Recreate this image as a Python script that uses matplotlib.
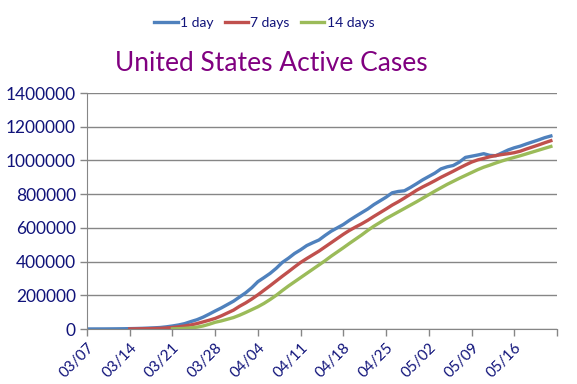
import numpy as np
import matplotlib.pyplot as plt
from matplotlib.ticker import FixedLocator

# active cases in thousands, one value per day starting 03/07
one_day = [0.3, 0.4, 0.5, 0.6, 0.9, 1.2, 1.6, 2.2,
           3, 4, 5.5, 7, 9, 13,
           18, 24, 32, 44, 55, 70, 88, 107,
           125, 145, 165, 190, 215, 245, 281,
           305, 330, 360, 395, 420, 448, 470,
           495, 512, 528, 555, 580, 600, 620,
           645, 668, 690, 712, 738, 760, 782,
           808, 816, 820, 840, 862, 885, 905,
           925, 950, 962, 970, 990, 1018, 1025,
           1032, 1040, 1030, 1028, 1045, 1062, 1075,
           1085, 1098, 1110, 1122, 1135, 1145]

seven_days = [np.nan] * 7 + [
    0.5, 1, 1.5, 2, 3, 4, 6, 9,
    13, 18, 24, 32, 42, 52, 63,
    78, 95, 112, 135, 155, 178, 203,
    230, 257, 285, 313, 340, 368, 395,
    418, 440, 462, 487, 512, 537, 562,
    585, 605, 624, 645, 668, 690, 712,
    735, 755, 777, 800, 823, 843, 861,
    880, 900, 918, 936, 955, 973, 990,
    1003, 1012, 1022, 1029, 1035, 1040, 1046,
    1055, 1068, 1080, 1092, 1105, 1117]

fourteen_days = [np.nan] * 14 + [
    1, 2, 4, 7, 11, 18, 28, 40,
    48, 58, 68, 82, 98, 115, 132,
    152, 175, 200, 228, 255, 280, 305,
    330, 355, 380, 405, 432, 457, 482,
    508, 533, 558, 585, 610, 632, 655,
    675, 695, 715, 735, 755, 776, 797,
    818, 838, 858, 876, 894, 911, 928,
    945, 960, 972, 985, 997, 1008, 1018,
    1028, 1039, 1050, 1061, 1072, 1083]

tick_labels = ['03/07', '03/14', '03/21', '03/28', '04/04', '04/11',
               '04/18', '04/25', '05/02', '05/09', '05/16']

navy = '#10137a'
grid_c = '#868686'
plt.rcParams['font.family'] = ['Lato', 'DejaVu Sans']

days = np.arange(len(one_day))
fig = plt.figure(figsize=(5.77, 3.84), dpi=100)
ax = fig.add_axes([0.1508, 0.1432, 0.8145, 0.6146])

ax.plot(days, np.array(one_day) * 1000, color='#4F81BD', lw=2.4, label='1 day')
ax.plot(days, np.array(seven_days) * 1000, color='#C0504D', lw=2.4, label='7 days')
ax.plot(days, np.array(fourteen_days) * 1000, color='#9BBB59', lw=2.4, label='14 days')

ax.set_xlim(0, 77)
ax.set_ylim(0, 1400000)
ax.set_yticks(np.arange(0, 1400001, 200000))
ax.set_yticklabels([str(v) for v in range(0, 1400001, 200000)])
ax.xaxis.set_major_locator(FixedLocator(np.arange(0, 78, 7)))
ax.set_xticklabels(tick_labels + [''], rotation=45, ha='right', rotation_mode='anchor')

ax.grid(axis='y', color=grid_c, lw=1)
ax.set_axisbelow(True)
for s in ['top', 'right']:
    ax.spines[s].set_visible(False)
for s in ['left', 'bottom']:
    ax.spines[s].set_color(grid_c)
ax.tick_params(axis='both', colors=grid_c, length=5, width=1, labelcolor=navy)
ax.tick_params(axis='y', labelsize=12.5, pad=3)
ax.tick_params(axis='x', labelsize=11, pad=3)

fig.text(0.47, 0.834, 'United States Active Cases', color='#800080', fontsize=19,
         ha='center', va='center')
leg = fig.legend(loc='center', bbox_to_anchor=(0.458, 0.94), ncol=3, frameon=False,
                 fontsize=10, handlelength=1.7, handletextpad=0.15, columnspacing=0.8)
for t in leg.get_texts():
    t.set_color(navy)

fig.savefig('out.png', dpi=100)
